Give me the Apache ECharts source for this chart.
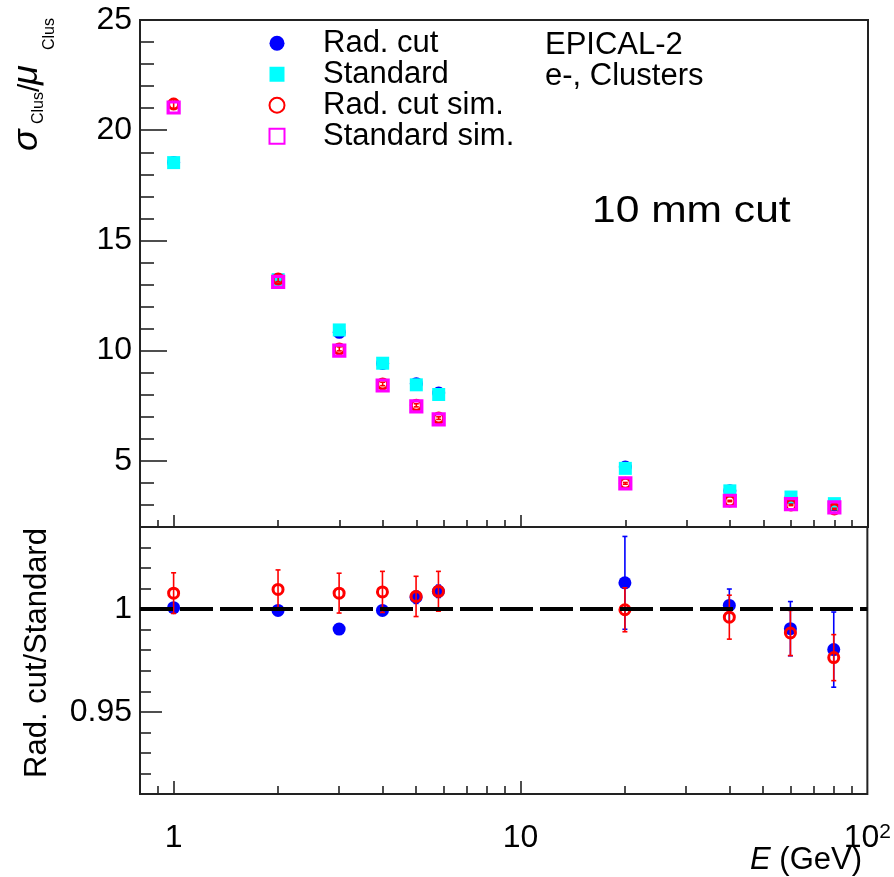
<!DOCTYPE html>
<html><head><meta charset="utf-8">
<script src="https://cdn.jsdelivr.net/npm/echarts@6/dist/echarts.min.js"></script>
<style>html,body{margin:0;padding:0;background:#fff}#c{width:894px;height:877px}</style>
</head><body><div id="c"></div>
<script>
// ---- data ----
const energies = [1, 2, 3, 4, 5, 5.8, 20, 40, 60, 80];
const radCut = [18.54, 13.21, 10.83, 9.42, 8.50, 8.08, 4.72, 3.65, 3.33, 3.00];
const radCutErr = [0.03, 0.03, 0.02, 0.02, 0.02, 0.02, 0.05, 0.03, 0.04, 0.05];
const standard = [18.53, 13.22, 10.94, 9.43, 8.45, 8.01, 4.66, 3.64, 3.36, 3.06];
const radCutSim = [21.19, 13.25, 10.08, 8.49, 7.52, 6.94, 3.98, 3.18, 3.00, 2.82];
const radCutSimErr = [0.24, 0.12, 0.09, 0.08, 0.07, 0.06, 0.04, 0.03, 0.03, 0.03];
const standardSim = [21.03, 13.12, 10.00, 8.42, 7.47, 6.88, 3.98, 3.19, 3.04, 2.89];
const ratioData = [1.0007, 0.9994, 0.9903, 0.9994, 1.0058, 1.0087, 1.0128, 1.0018, 0.9905, 0.9803];
const ratioDataErr = [0.002, 0.002, 0.002, 0.002, 0.003, 0.003, 0.0226, 0.008, 0.0132, 0.0183];
const ratioSim = [1.0078, 1.0096, 1.0078, 1.0084, 1.0062, 1.0087, 0.9997, 0.9961, 0.9884, 0.9764];
const ratioSimErr = [0.0099, 0.0095, 0.0097, 0.0100, 0.0098, 0.0097, 0.0107, 0.0107, 0.0110, 0.0112];
const refLine = 1;

const xMajorTicks = [1, 10];
const xMinorTicks = [0.9, 2, 3, 4, 5, 6, 7, 8, 9, 20, 30, 40, 50, 60, 70, 80, 90];
const xLabels = [1, 10, 100];
const yTopMajor = [5, 10, 15, 20, 25];
const yTopMinor = [3, 4, 6, 7, 8, 9, 11, 12, 13, 14, 16, 17, 18, 19, 21, 22, 23, 24];
const yBotMajor = [0.95, 1];
const yBotMinor = [0.92, 0.93, 0.94, 0.96, 0.97, 0.98, 0.99, 1.01, 1.02, 1.03];

const FONT = 'Liberation Sans';
const AX = '#222';

function pts(xs, ys) { return xs.map((x, i) => [x, ys[i]]); }
function errs(xs, ys, es) { return xs.map((x, i) => [x, ys[i] - es[i], ys[i] + es[i]]); }
function errRender(color) {
  return function (params, api) {
    const x = api.value(0);
    const p1 = api.coord([x, api.value(1)]);
    const p2 = api.coord([x, api.value(2)]);
    const cw = 2.5;
    const st = { stroke: color, lineWidth: 1.6 };
    return { type: 'group', children: [
      { type: 'line', shape: { x1: p1[0], y1: p1[1], x2: p2[0], y2: p2[1] }, style: st },
      { type: 'line', shape: { x1: p1[0] - cw, y1: p1[1], x2: p1[0] + cw, y2: p1[1] }, style: st },
      { type: 'line', shape: { x1: p2[0] - cw, y1: p2[1], x2: p2[0] + cw, y2: p2[1] }, style: st }
    ]};
  };
}
function xAx(grid, ticks, len, labels) {
  return {
    type: 'log', gridIndex: grid, min: 0.8, max: 100, position: 'bottom',
    axisLine: { show: false }, splitLine: { show: false },
    axisTick: { show: true, inside: true, length: len, customValues: ticks, lineStyle: { color: AX, width: 1.6 } },
    axisLabel: labels ? {
      show: true, customValues: labels, margin: 28, color: '#000', fontFamily: FONT, fontSize: 32,
      formatter: v => (Math.abs(v - 100) < 1e-6 ? '10{sup|2}' : String(Math.round(v))),
      rich: { sup: { fontSize: 21, fontFamily: FONT, color: '#000', verticalAlign: 'top', lineHeight: 8 } }
    } : { show: false }
  };
}
function yAx(grid, min, max, ticks, len, labels) {
  return {
    type: 'value', gridIndex: grid, min: min, max: max, position: 'left',
    axisLine: { show: false }, splitLine: { show: false },
    axisTick: { show: true, inside: true, length: len, customValues: ticks, lineStyle: { color: AX, width: 1.6 } },
    axisLabel: labels ? {
      show: true, customValues: labels, margin: 8, color: '#000', fontFamily: FONT, fontSize: 32,
      formatter: v => String(+(+v).toFixed(2))
    } : { show: false }
  };
}

const chart = echarts.init(document.getElementById('c'), null, { renderer: 'canvas' });
const option = {
  animation: false,
  backgroundColor: '#fff',
  grid: [
    { left: 140, top: 20, width: 728, height: 507, show: true, borderColor: AX, borderWidth: 2, backgroundColor: 'transparent' },
    { left: 140, top: 527, width: 728, height: 267, show: true, borderColor: AX, borderWidth: 2, backgroundColor: 'transparent' }
  ],
  xAxis: [
    xAx(0, xMajorTicks, 12, null),
    xAx(0, xMinorTicks, 7, null),
    xAx(1, xMajorTicks, 13, xLabels),
    xAx(1, xMinorTicks, 8, null)
  ],
  yAxis: [
    yAx(0, 2, 25, yTopMajor, 27, yTopMajor),
    yAx(0, 2, 25, yTopMinor, 14, null),
    yAx(1, 0.91, 1.04, yBotMajor, 22, yBotMajor),
    yAx(1, 0.91, 1.04, yBotMinor, 11, null)
  ],
  legend: {
    left: 268.5, top: 27.75, orient: 'vertical', padding: 0, itemGap: 0,
    itemWidth: 15, itemHeight: 15, selectedMode: false,
    data: ['Rad. cut', 'Standard', 'Rad. cut sim.', 'Standard sim.'],
    textStyle: { fontFamily: FONT, fontSize: 31, color: '#000', lineHeight: 26.5, padding: [0, 0, 0, 33.5] }
  },
  graphic: [
    { type: 'text', x: 545, y: 45, style: { text: 'EPICAL-2', fontFamily: FONT, fontSize: 31, fill: '#000', align: 'left', verticalAlign: 'middle' } },
    { type: 'text', x: 545, y: 76, style: { text: 'e-, Clusters', fontFamily: FONT, fontSize: 31, fill: '#000', align: 'left', verticalAlign: 'middle' } },
    { type: 'text', x: 592, y: 212, scaleX: 1.15, style: { text: '10 mm cut', fontFamily: FONT, fontSize: 37, fill: '#000', align: 'left', verticalAlign: 'middle' } },
    { type: 'text', x: 862, y: 860, style: { text: '{i|E} (GeV)', fontFamily: FONT, fontSize: 31, fill: '#000', align: 'right', verticalAlign: 'middle',
        rich: { i: { fontStyle: 'italic', fontFamily: FONT, fontSize: 31, fill: '#000' } } } },
    { type: 'text', x: 37, y: 653, rotation: Math.PI / 2, style: { text: 'Rad. cut/Standard', fontFamily: FONT, fontSize: 31, fill: '#000', align: 'center', verticalAlign: 'middle' } },
    { type: 'group', x: 40, y: 150, rotation: Math.PI / 2, children: [
      { type: 'text', x: -1, y: -12.6, style: { text: 'σ', fontFamily: FONT, fontSize: 36, fontStyle: 'italic', fill: '#000', align: 'left', verticalAlign: 'middle' } },
      { type: 'text', x: 26, y: -1.3, style: { text: 'Clus', fontFamily: FONT, fontSize: 16, fill: '#000', align: 'left', verticalAlign: 'middle' } },
      { type: 'text', x: 58, y: -9, style: { text: '/', fontFamily: FONT, fontSize: 30, fill: '#000', align: 'left', verticalAlign: 'middle' } },
      { type: 'text', x: 65, y: -12.6, style: { text: 'μ', fontFamily: FONT, fontSize: 36, fontStyle: 'italic', fill: '#000', align: 'left', verticalAlign: 'middle' } },
      { type: 'text', x: 100, y: 9.7, style: { text: 'Clus', fontFamily: FONT, fontSize: 16, fill: '#000', align: 'left', verticalAlign: 'middle' } }
    ]}
  ],
  series: [
    // top panel
    { type: 'custom', name: 'radCutErr', xAxisIndex: 0, yAxisIndex: 0, renderItem: errRender('#0000ff'), data: errs(energies, radCut, radCutErr), encode: { x: 0, y: [1, 2] }, z: 2 },
    { type: 'scatter', name: 'Rad. cut', xAxisIndex: 0, yAxisIndex: 0, data: pts(energies, radCut), symbol: 'circle', symbolSize: 13, itemStyle: { color: '#0000ff', opacity: 1 }, z: 2 },
    { type: 'scatter', name: 'Standard', xAxisIndex: 0, yAxisIndex: 0, data: pts(energies, standard), symbol: 'rect', symbolSize: 13, itemStyle: { color: '#00ffff', opacity: 1 }, z: 3 },
    { type: 'custom', name: 'radCutSimErr', xAxisIndex: 0, yAxisIndex: 0, renderItem: errRender('#ff0000'), data: errs(energies, radCutSim, radCutSimErr), encode: { x: 0, y: [1, 2] }, z: 4 },
    { type: 'scatter', name: 'Rad. cut sim.', xAxisIndex: 0, yAxisIndex: 0, data: pts(energies, radCutSim), symbol: 'circle', symbolSize: 10, itemStyle: { color: 'rgba(255,255,255,0)', borderColor: '#ff0000', borderWidth: 3, opacity: 1 }, z: 4 },
    { type: 'scatter', name: 'Standard sim.', xAxisIndex: 0, yAxisIndex: 0, data: pts(energies, standardSim), symbol: 'rect', symbolSize: 11, itemStyle: { color: 'rgba(255,255,255,0)', borderColor: '#ff00ff', borderWidth: 3.2, opacity: 1 }, z: 5 },
    // ratio panel
    { type: 'custom', name: 'ratioDataErr', xAxisIndex: 2, yAxisIndex: 2, renderItem: errRender('#0000ff'), data: errs(energies, ratioData, ratioDataErr), encode: { x: 0, y: [1, 2] }, z: 2 },
    { type: 'scatter', name: 'ratioData', xAxisIndex: 2, yAxisIndex: 2, data: pts(energies, ratioData), symbol: 'circle', symbolSize: 13, itemStyle: { color: '#0000ff', opacity: 1 }, z: 2 },
    { type: 'custom', name: 'ratioSimErr', xAxisIndex: 2, yAxisIndex: 2, renderItem: errRender('#ff0000'), data: errs(energies, ratioSim, ratioSimErr), encode: { x: 0, y: [1, 2] }, z: 3 },
    { type: 'scatter', name: 'ratioSim', xAxisIndex: 2, yAxisIndex: 2, data: pts(energies, ratioSim), symbol: 'circle', symbolSize: 10, itemStyle: { color: 'rgba(255,255,255,0)', borderColor: '#ff0000', borderWidth: 3, opacity: 1 }, z: 3,
      markLine: { silent: true, symbol: 'none', label: { show: false }, animation: false, z: 10,
        lineStyle: { color: '#000', width: 4, type: [33, 7] }, data: [{ yAxis: refLine }] } }
  ]
};
chart.setOption(option);
</script>
</body></html>
